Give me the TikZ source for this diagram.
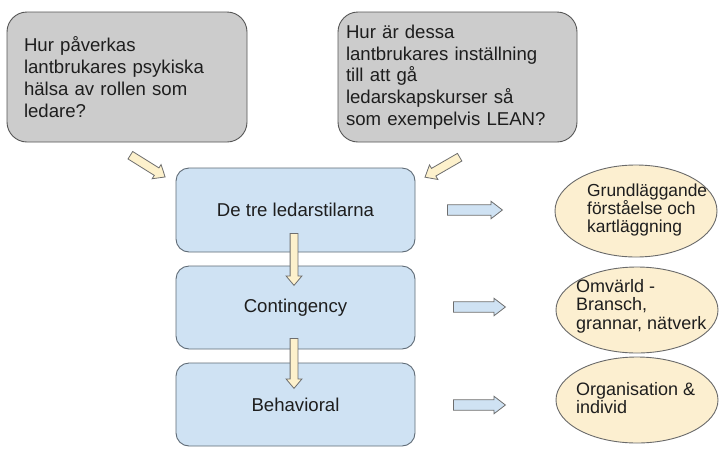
\documentclass[tikz,border=0pt]{standalone}
\usepackage{fontspec}
\setmainfont{Liberation Sans}
\usetikzlibrary{shapes.geometric,shapes.arrows}
\definecolor{qfill}{HTML}{CCCCCC}
\definecolor{qline}{HTML}{555555}
\definecolor{bfill}{HTML}{CFE2F3}
\definecolor{bline}{HTML}{5F6B76}
\definecolor{efill}{HTML}{FCEFD0}
\definecolor{eline}{HTML}{6A6A6A}
\definecolor{yfill}{HTML}{FDF1CC}
\definecolor{aline}{HTML}{6E6E6E}
\definecolor{txt}{HTML}{1E1E1E}
\begin{document}
\begin{tikzpicture}[x=1pt,y=-1pt,
  qbox/.style={draw=qline, fill=qfill, line width=0.9pt, rounded corners=20pt,
    minimum height=130pt, align=left, text=txt, inner ysep=0pt,
    font=\fontsize{18.6}{21.8}\selectfont},
  bbox/.style={draw=bline, fill=bfill, line width=0.9pt, rounded corners=13pt,
    minimum width=239pt, text=txt, font=\fontsize{18.6}{21.8}\selectfont},
  ebox/.style={ellipse, draw=eline, fill=efill, line width=0.9pt,
    minimum width=162pt, inner sep=0pt},
  etext/.style={anchor=west, align=left, inner sep=0pt, text=txt,
    font=\fontsize{18}{18.6}\selectfont},
  barrow/.style={single arrow, draw=aline, line width=0.8pt, inner xsep=0pt,
    inner ysep=3.5pt, minimum width=0pt, single arrow head extend=4pt,
    single arrow tip angle=80, anchor=tail},
  yarrow/.style={barrow, fill=yfill},
  darrow/.style={yarrow, inner ysep=4pt},
  harrow/.style={barrow, fill=bfill, inner ysep=4.8pt, single arrow head extend=3.6pt,
    single arrow tip angle=75}]
\useasboundingbox[fill=white] (0,0) rectangle (720,448);

% question boxes
\node[qbox, minimum width=240pt, text width=206pt, inner xsep=17pt] (q1) at (127,77)
  {Hur påverkas\\lantbrukares psykiska\\hälsa av rollen som\\ledare?};
\node[qbox, minimum width=239pt, text width=223pt, inner xsep=8pt] (q2) at (457.5,77)
  {Hur är dessa\\lantbrukares inställning\\till att gå\\ledarskapskurser så\\som exempelvis LEAN?};

% leadership boxes
\node[bbox, minimum height=84pt] (b1) at (295.5,210) {De tre ledarstilarna};
\node[bbox, minimum height=83pt] (b2) at (295.5,307.5) {Contingency};
\node[bbox, minimum height=83pt] (b3) at (295.5,404.5) {Behavioral};

% ellipses
\node[ebox, minimum height=92pt] (e1) at (636,211) {};
\node[ebox, minimum height=86pt] (e2) at (637,310) {};
\node[ebox, minimum height=86pt] (e3) at (637,400) {};
\node[etext, font=\fontsize{17.4}{18.4}\selectfont] (t1) at (587,210) {Grundläggande\\förståelse och\\kartläggning};
\node[etext] (t2) at (576,306) {Omvärld -\\Bransch,\\grannar, nätverk};
\node[etext] (t3) at (576,398) {Organisation \&\\individ};

% block arrows
\node[darrow, minimum height=41pt, rotate=-32] (d1) at (130,155) {};
\node[darrow, minimum height=40pt, rotate=210] (d2) at (460,157) {};
\node[yarrow, minimum height=52pt, rotate=-90] (v1) at (294,233) {};
\node[yarrow, minimum height=50pt, rotate=-90] (v2) at (294,338) {};
\node[harrow, minimum height=55pt] (h1) at (447,210) {};
\node[harrow, minimum height=52pt] (h2) at (453,307) {};
\node[harrow, minimum height=52pt] (h3) at (453,405) {};
\end{tikzpicture}
\end{document}
